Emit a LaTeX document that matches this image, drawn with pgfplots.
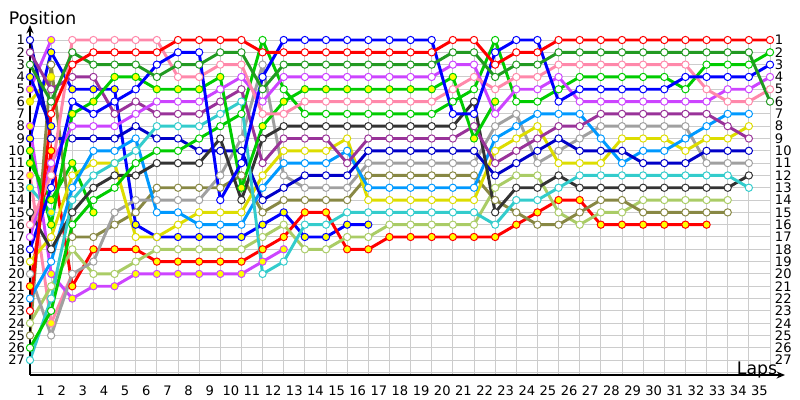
\documentclass[border=0pt]{standalone}
\usepackage{fontspec}
\setmainfont{DejaVu Sans}
\usepackage{pgfplots}
\pgfplotsset{compat=1.18}
\usetikzlibrary{arrows.meta}
\definecolor{cRed}{HTML}{FF0000}
\definecolor{cDkGreen}{HTML}{229A22}
\definecolor{cGreen}{HTML}{00CC00}
\definecolor{cBlue}{HTML}{0000FF}
\definecolor{cDkBlue}{HTML}{0000C8}
\definecolor{cViolet}{HTML}{CC44FF}
\definecolor{cPink}{HTML}{FF88AA}
\definecolor{cPurple}{HTML}{993399}
\definecolor{cBlack}{HTML}{333333}
\definecolor{cGray}{HTML}{A0A0A0}
\definecolor{cOlive}{HTML}{888844}
\definecolor{cYellow}{HTML}{DDDD00}
\definecolor{cLtBlue}{HTML}{0099FF}
\definecolor{cCyan}{HTML}{33CCCC}
\definecolor{cLtGreen}{HTML}{AACC66}
\definecolor{cFillY}{HTML}{FFFF00}
\definecolor{cGrid}{HTML}{CCCCCC}
\pgfplotsset{
  lap/.style 2 args={color=#1, line width=2.1pt, mark=*, mark size=2.6pt,
    mark options={draw=#1, fill=#2, line width=0.7pt, solid}},
}
\begin{document}
\begin{tikzpicture}
\useasboundingbox (0,0) rectangle (20cm,10cm);
\begin{axis}[
  at={(0.75cm,0.625cm)}, anchor=south west, scale only axis,
  width=18.875cm, height=8.75cm,
  xmin=0, xmax=35.71, ymin=-0.22, ymax=28.21, y dir=reverse,
  clip=false, axis line style={draw=none},
  major tick length=0pt,
  xtick={0.5,1.5,...,34.5},
  xticklabels={1,2,3,4,5,6,7,8,9,10,11,12,13,14,15,16,17,18,19,20,21,22,23,24,25,26,27,28,29,30,31,32,33,34,35},
  xticklabel style={yshift=-4pt},
  ytick={1,...,27},
  tick label style={font=\fontsize{9.3}{10}\selectfont},
  /pgf/number format/assume math mode=true,
]
\pgfplotsinvokeforeach{0,...,35}{\draw[cGrid, line width=0.7pt] (axis cs:#1,1) -- (axis cs:#1,28.21);}
\pgfplotsinvokeforeach{1,...,28}{\draw[cGrid, line width=0.7pt] (axis cs:0,#1) -- (axis cs:35,#1);}

% early retirements
\addplot[lap={cViolet}{cFillY}] coordinates {(0,5)(1,1)};
\addplot[lap={cYellow}{cFillY}] coordinates {(0,6)(1,4)};
\addplot[lap={cBlue}{cFillY}] coordinates {(0,4)(1,8)};
\addplot[lap={cGreen}{cFillY}] coordinates {(0,11)(1,14)(2,11)(3,15)};
\addplot[lap={cPink}{cFillY}] coordinates {(0,12)(1,24)(2,20)};
\addplot[lap={cCyan}{cFillY}] coordinates {(0,13)(1,15)};

\addplot[lap={cViolet}{cFillY}] coordinates {(0,8)(1,20)(2,22)(3,21)(4,21)(5,20)(6,20)(7,20)(8,20)(9,20)(10,20)(11,19)(12,18)};
\addplot[lap={cBlue}{cFillY}] coordinates {(0,9)(1,2)(2,5)(3,5)(4,5)(5,16)(6,17)(7,17)(8,17)(9,17)(10,17)(11,16)(12,15)(13,17)(14,17)(15,16)(16,16)};
\addplot[lap={cRed}{cFillY}] coordinates {(0,21)(1,10)(2,21)(3,18)(4,18)(5,18)(6,19)(7,19)(8,19)(9,19)(10,19)(11,18)(12,17)(13,15)(14,15)(15,18)(16,18)(17,17)(18,17)(19,17)(20,17)(21,17)(22,17)(23,16)(24,15)(25,14)(26,14)(27,16)(28,16)(29,16)(30,16)(31,16)(32,16)};
\addplot[lap={cLtGreen}{white}] coordinates {(0,24)(1,21)(2,18)(3,20)(4,20)(5,19)(6,18)(7,18)(8,18)(9,18)(10,18)(11,17)(12,16)(13,18)(14,18)(15,17)(16,17)(17,16)(18,16)(19,16)(20,16)(21,16)(22,13)(23,12)(24,12)(25,15)(26,16)(27,15)(28,15)(29,14)(30,14)(31,14)(32,14)(33,14)};
\addplot[lap={cOlive}{white}] coordinates {(0,25)(1,3)(2,17)(3,17)(4,16)(5,15)(6,13)(7,13)(8,13)(9,13)(10,12)(11,15)(12,14)(13,14)(14,14)(15,14)(16,12)(17,12)(18,12)(19,12)(20,12)(21,12)(22,14)(23,15)(24,16)(25,16)(26,15)(27,14)(28,14)(29,15)(30,15)(31,15)(32,15)(33,15)};
\addplot[lap={cGray}{white}] coordinates {(0,20)(1,25)(2,20)(3,19)(4,15)(5,14)(6,14)(7,14)(8,14)(9,12)(10,9)(11,3)(12,12)(13,13)(14,13)(15,13)(16,11)(17,11)(18,11)(19,11)(20,11)(21,11)(22,8)(23,7)(24,11)(25,10)(26,9)(27,8)(28,8)(29,8)(30,8)(31,8)(32,11)(33,11)(34,11)};
\addplot[lap={cYellow}{white}] coordinates {(0,19)(1,17)(2,12)(3,11)(4,11)(5,17)(6,17)(7,16)(8,15)(9,15)(10,15)(11,12)(12,10)(13,10)(14,10)(15,9)(16,14)(17,14)(18,14)(19,14)(20,14)(21,14)(22,10)(23,9)(24,8)(25,11)(26,11)(27,11)(28,9)(29,9)(30,9)(31,10)(32,9)(33,9)(34,8)};
\addplot[lap={cLtBlue}{white}] coordinates {(0,22)(1,19)(2,13)(3,10)(4,10)(5,9)(6,15)(7,15)(8,16)(9,16)(10,16)(11,13)(12,11)(13,11)(14,11)(15,10)(16,13)(17,13)(18,13)(19,13)(20,13)(21,13)(22,9)(23,8)(24,7)(25,7)(26,7)(27,9)(28,11)(29,10)(30,10)(31,9)(32,8)(33,7)(34,7)};
\addplot[lap={cDkBlue}{white}] coordinates {(0,1)(1,9)(2,9)(3,9)(4,9)(5,8)(6,9)(7,9)(8,10)(9,10)(10,10)(11,14)(12,13)(13,12)(14,12)(15,12)(16,10)(17,10)(18,10)(19,10)(20,10)(21,10)(22,12)(23,11)(24,10)(25,9)(26,10)(27,10)(28,10)(29,11)(30,11)(31,11)(32,10)(33,10)(34,10)};
\addplot[lap={cBlack}{white}] coordinates {(0,15)(1,18)(2,15)(3,13)(4,12)(5,12)(6,11)(7,11)(8,11)(9,9)(10,14)(11,9)(12,8)(13,8)(14,8)(15,8)(16,8)(17,8)(18,8)(19,8)(20,8)(21,6)(22,15)(23,13)(24,13)(25,12)(26,13)(27,13)(28,13)(29,13)(30,13)(31,13)(32,13)(33,13)(34,12)};
\addplot[lap={cCyan}{white}] coordinates {(0,27)(1,22)(2,14)(3,12)(4,11)(5,10)(6,8)(7,8)(8,8)(9,7)(10,6)(11,20)(12,19)(13,16)(14,16)(15,15)(16,15)(17,15)(18,15)(19,15)(20,15)(21,15)(22,16)(23,14)(24,14)(25,13)(26,12)(27,12)(28,12)(29,12)(30,12)(31,12)(32,12)(33,12)(34,13)};
\addplot[lap={cPurple}{white}] coordinates {(0,2)(1,5)(2,4)(3,4)(4,7)(5,6)(6,7)(7,7)(8,7)(9,6)(10,5)(11,11)(12,9)(13,9)(14,9)(15,11)(16,9)(17,9)(18,9)(19,9)(20,9)(21,8)(22,11)(23,10)(24,9)(25,8)(26,8)(27,7)(28,7)(29,7)(30,7)(31,7)(32,7)(33,8)(34,9)};
\addplot[lap={cGreen}{cFillY}] coordinates {(0,10)(1,16)(2,7)(3,6)(4,4)(5,4)(6,5)(7,5)(8,5)(9,4)(10,13)(11,8)(12,6)(13,5)(14,5)(15,5)(16,5)(17,5)(18,5)(19,5)(20,4)(21,9)(22,6)};
\addplot[lap={cGreen}{white}] coordinates {(0,26)(1,23)(2,16)(3,14)(4,13)(5,11)(6,10)(7,10)(8,9)(9,8)(10,7)(11,1)(12,5)(13,7)(14,7)(15,7)(16,7)(17,7)(18,7)(19,7)(20,6)(21,5)(22,1)(23,6)(24,6)(25,5)(26,4)(27,4)(28,4)(29,4)(30,4)(31,5)(32,3)(33,3)(34,3)(35,2)};
\addplot[lap={cViolet}{white}] coordinates {(0,17)(1,11)(2,8)(3,8)(4,8)(5,7)(6,6)(7,6)(8,6)(9,5)(10,4)(11,6)(12,4)(13,4)(14,4)(15,4)(16,4)(17,4)(18,4)(19,4)(20,3)(21,3)(22,7)(23,5)(24,5)(25,4)(26,6)(27,6)(28,6)(29,6)(30,6)(31,6)(32,6)(33,5)(34,5)(35,4)};
\addplot[lap={cPink}{white}] coordinates {(0,16)(1,12)(2,1)(3,1)(4,1)(5,1)(6,1)(7,4)(8,4)(9,3)(10,3)(11,7)(12,7)(13,6)(14,6)(15,6)(16,6)(17,6)(18,6)(19,6)(20,5)(21,4)(22,5)(23,4)(24,4)(25,3)(26,3)(27,3)(28,3)(29,3)(30,3)(31,3)(32,5)(33,6)(34,6)(35,5)};
\addplot[lap={cBlue}{white}] coordinates {(0,18)(1,13)(2,6)(3,7)(4,6)(5,5)(6,3)(7,2)(8,2)(9,14)(10,11)(11,4)(12,1)(13,1)(14,1)(15,1)(16,1)(17,1)(18,1)(19,1)(20,7)(21,7)(22,2)(23,1)(24,1)(25,6)(26,5)(27,5)(28,5)(29,5)(30,5)(31,4)(32,4)(33,4)(34,4)(35,3)};
\addplot[lap={cDkGreen}{white}] coordinates {(0,3)(1,6)(2,2)(3,3)(4,3)(5,3)(6,4)(7,3)(8,3)(9,2)(10,2)(11,5)(12,3)(13,3)(14,3)(15,3)(16,3)(17,3)(18,3)(19,3)(20,2)(21,2)(22,4)(23,3)(24,3)(25,2)(26,2)(27,2)(28,2)(29,2)(30,2)(31,2)(32,2)(33,2)(34,2)(35,6)};
\addplot[lap={cRed}{white}] coordinates {(0,23)(1,7)(2,3)(3,2)(4,2)(5,2)(6,2)(7,1)(8,1)(9,1)(10,1)(11,2)(12,2)(13,2)(14,2)(15,2)(16,2)(17,2)(18,2)(19,2)(20,1)(21,1)(22,3)(23,2)(24,2)(25,1)(26,1)(27,1)(28,1)(29,1)(30,1)(31,1)(32,1)(33,1)(34,1)(35,1)};

\draw[black, line width=0.8pt, -{Stealth[length=6pt,width=5pt]}] (axis cs:0,28.21) -- (axis cs:0,-0.22);
\draw[black, line width=1.2pt, -{Stealth[length=6pt,width=5pt]}] (axis cs:0,28.21) -- (axis cs:35.71,28.21);
\end{axis}
\begin{axis}[
  at={(0.75cm,0.625cm)}, anchor=south west, scale only axis,
  width=18.5cm, height=8.75cm,
  xmin=0, xmax=35, ymin=-0.22, ymax=28.21, y dir=reverse,
  axis line style={draw=none}, major tick length=0pt,
  xtick=\empty, ytick={1,...,27}, yticklabel pos=right,
  yticklabel style={anchor=west, xshift=0pt},
  tick label style={font=\fontsize{9.3}{10}\selectfont},
  /pgf/number format/assume math mode=true,
]
\end{axis}
\node[anchor=base west, font=\fontsize{12.3}{14}\selectfont] at (0.1cm,9.375cm) {Position};
\node[anchor=base west, font=\fontsize{12.3}{14}\selectfont] at (18.3cm,0.64cm) {Laps};
\end{tikzpicture}
\end{document}
